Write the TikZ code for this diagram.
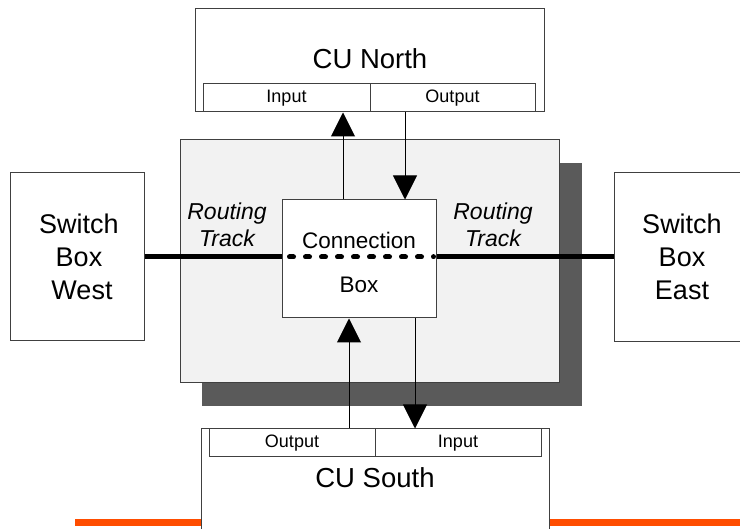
\documentclass[tikz,border=0pt]{standalone}
\usepackage{fontspec}
\setmainfont{Liberation Sans}
\usetikzlibrary{arrows.meta}
\definecolor{bordergray}{HTML}{404040}
\definecolor{panelgray}{HTML}{F2F2F2}
\definecolor{shadowgray}{HTML}{5A5A5A}
\definecolor{orangebar}{HTML}{FF4D00}
\tikzset{
  box/.style={draw=bordergray, line width=1pt, fill=white, inner sep=0pt},
  lbl/.style={inner sep=0pt, align=center},
  arr/.style={line width=1pt, -{Triangle[length=24pt,width=24pt]}},
  track/.style={line width=5pt},
  portfont/.style={font=\fontsize{18}{21}\selectfont},
}
\begin{document}
\begin{tikzpicture}[x=1pt,y=-1pt]
\useasboundingbox (0,0) rectangle (740,529);
\clip (0,0) rectangle (740,529);
% shadow and panel
\fill[shadowgray] (202,163) rectangle (582,406);
\node[box, fill=panelgray, minimum width=379pt, minimum height=243pt] (panel) at (369.5,261.5) {};
% orange bar
\coordinate (ob1) at (75,522.5);
\coordinate (ob2) at (745,522.5);
\draw[orangebar, line width=7pt] (ob1) -- (ob2);
% switch boxes
\node[box, minimum width=134pt, minimum height=168pt] (sbw) at (77,257) {};
\node[lbl, font=\fontsize{27}{33}\selectfont] (sbwt) at (79,257) {Switch\\Box\\\hspace*{6pt}West};
\node[box, minimum width=160pt, minimum height=169pt] (sbe) at (694,257.5) {};
\node[lbl, font=\fontsize{27}{33}\selectfont] (sbet) at (682,257) {Switch\\Box\\East};
% connection box
\node[box, minimum width=154pt, minimum height=118pt] (cb) at (359,259) {};
% routing tracks
\coordinate (tw) at (sbw.east |- 0,257);
\coordinate (te) at (sbe.west |- 0,257);
\coordinate (cbw) at (cb.west |- 0,257);
\coordinate (cbe) at (cb.east |- 0,257);
\draw[track] (tw) -- (cbw);
\draw[track] (cbe) -- (te);
\draw[line width=5pt, line cap=round, dash pattern=on 4pt off 12pt, dash phase=-5pt] ([xshift=3pt]cbw) -- ([xshift=-3pt]cbe);
\node[lbl, font=\fontsize{22.5}{28}\selectfont] (cbt1) at (359,240) {Connection};
\node[lbl, font=\fontsize{22.5}{28}\selectfont] (cbt2) at (359,285) {Box};
% routing track labels
\node[lbl, font=\fontsize{23}{27}\itshape\selectfont] (rtw) at (227,224.5) {Routing\\Track};
\node[lbl, font=\fontsize{23}{27}\itshape\selectfont] (rte) at (493,224.5) {Routing\\Track};
% CU North
\node[box, minimum width=349pt, minimum height=103pt] (cun) at (369.5,60.5) {};
\node[lbl, font=\fontsize{27.5}{32}\selectfont] (cunt) at (370,59) {CU North};
\node[box, portfont, minimum width=167pt, minimum height=28pt] (cuni) at (286.5,98) {Input};
\node[box, portfont, minimum width=165pt, minimum height=28pt] (cuno) at (452.5,98) {Output};
% CU South
\node[box, minimum width=348pt, minimum height=140pt] (cus) at (375,499) {};
\node[box, portfont, minimum width=166pt, minimum height=28pt] (cuso) at (292,443) {Output};
\node[box, portfont, minimum width=166pt, minimum height=28pt] (cusi) at (458,443) {Input};
\node[lbl, font=\fontsize{27.5}{32}\selectfont] (cust) at (375,478) {CU South};
% arrows
\coordinate (an1) at (343,0);
\coordinate (an2) at (405,0);
\coordinate (as1) at (349,0);
\coordinate (as2) at (415,0);
\draw[arr] (cb.north -| an1) -- (cuni.south -| an1);
\draw[arr] (cuno.south -| an2) -- (cb.north -| an2);
\draw[arr] (cuso.north -| as1) -- (cb.south -| as1);
\draw[arr] (cb.south -| as2) -- (cusi.north -| as2);
\end{tikzpicture}
\end{document}
